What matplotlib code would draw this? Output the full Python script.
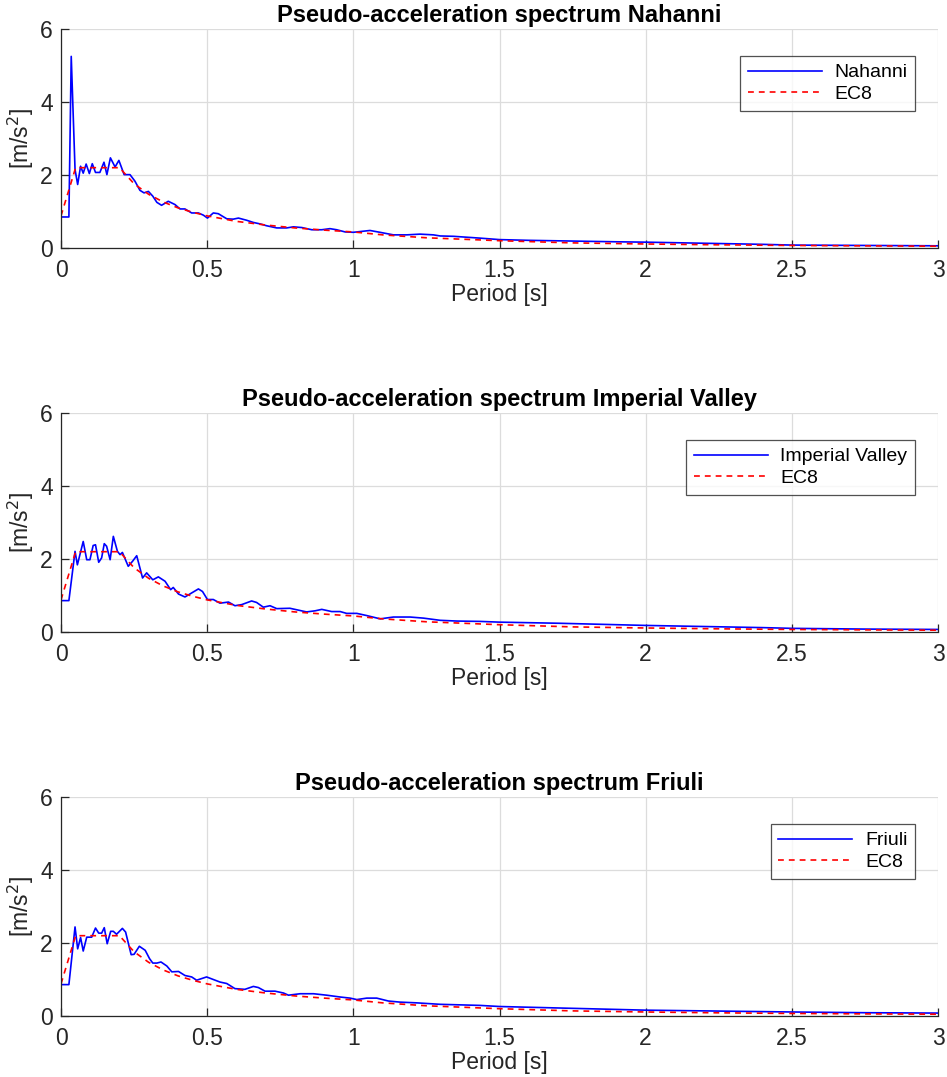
import matplotlib
matplotlib.use("Agg")
import matplotlib.pyplot as plt

plt.rcParams["font.family"] = ["Liberation Sans", "DejaVu Sans"]

# --- EC8 design spectrum ---
T_ec8 = [0.0, 0.05, 0.10, 0.15, 0.20, 0.25, 0.30, 0.35, 0.40, 0.45, 0.50,
         0.60, 0.70, 0.80, 0.90, 1.00, 1.10, 1.25, 1.50, 1.75, 2.00, 2.25,
         2.50, 2.75, 3.00]
Sa_ec8 = [0.88, 2.20, 2.20, 2.20, 2.20, 1.76, 1.47, 1.26, 1.10, 0.98, 0.88,
          0.73, 0.63, 0.55, 0.49, 0.44, 0.36, 0.28, 0.20, 0.14, 0.11, 0.087,
          0.070, 0.058, 0.049]

# --- Nahanni ---
T_nah = [0.0, 0.027, 0.035, 0.048, 0.057, 0.067, 0.076, 0.086, 0.097, 0.107,
         0.118, 0.133, 0.147, 0.157, 0.169, 0.185, 0.198, 0.216, 0.236, 0.253,
         0.270, 0.284, 0.299, 0.314, 0.328, 0.344, 0.367, 0.390, 0.407, 0.424,
         0.447, 0.470, 0.487, 0.501, 0.521, 0.538, 0.567, 0.589, 0.607, 0.635,
         0.658, 0.681, 0.703, 0.738, 0.772, 0.795, 0.824, 0.858, 0.892, 0.920,
         0.943, 0.972, 1.000, 1.023, 1.057, 1.091, 1.137, 1.183, 1.228, 1.274,
         1.297, 1.343, 1.434, 1.50, 1.60, 1.75, 1.90, 2.00, 2.20, 2.40, 2.50,
         2.75, 3.00]
Sa_nah = [0.85, 0.85, 5.25, 2.15, 1.74, 2.24, 2.05, 2.30, 2.04, 2.31,
          2.07, 2.07, 2.35, 2.01, 2.47, 2.22, 2.40, 2.01, 2.01, 1.83,
          1.58, 1.51, 1.55, 1.42, 1.25, 1.17, 1.28, 1.19, 1.07, 1.07,
          0.96, 0.96, 0.90, 0.82, 0.96, 0.94, 0.80, 0.79, 0.82, 0.76,
          0.70, 0.66, 0.61, 0.55, 0.55, 0.58, 0.56, 0.50, 0.50, 0.53,
          0.50, 0.44, 0.43, 0.45, 0.48, 0.43, 0.36, 0.36, 0.38, 0.36,
          0.33, 0.32, 0.27, 0.23, 0.21, 0.19, 0.17, 0.16, 0.13, 0.10, 0.08,
          0.07, 0.06]

# --- Imperial Valley ---
T_imp = [0.0, 0.027, 0.048, 0.056, 0.076, 0.088, 0.099, 0.110, 0.118, 0.129,
         0.139, 0.148, 0.156, 0.168, 0.179, 0.193, 0.202, 0.210, 0.230, 0.245,
         0.259, 0.279, 0.293, 0.314, 0.333, 0.356, 0.375, 0.384, 0.402, 0.424,
         0.447, 0.470, 0.484, 0.501, 0.521, 0.544, 0.573, 0.595, 0.618, 0.652,
         0.669, 0.692, 0.715, 0.738, 0.783, 0.840, 0.869, 0.892, 0.926, 0.955,
         0.977, 1.012, 1.046, 1.092, 1.137, 1.194, 1.240, 1.297, 1.354, 1.434,
         1.50, 1.70, 1.90, 2.00, 2.20, 2.40, 2.50, 2.75, 3.00]
Sa_imp = [0.86, 0.86, 2.21, 1.84, 2.48, 1.98, 1.98, 2.37, 2.39, 1.91,
          2.03, 2.42, 2.35, 1.98, 2.62, 2.21, 2.12, 2.18, 1.80, 1.94,
          2.09, 1.48, 1.62, 1.43, 1.51, 1.39, 1.16, 1.22, 1.04, 0.96,
          1.07, 1.18, 1.11, 0.89, 0.89, 0.79, 0.82, 0.72, 0.75, 0.85,
          0.81, 0.68, 0.72, 0.64, 0.65, 0.55, 0.58, 0.62, 0.56, 0.56,
          0.51, 0.51, 0.45, 0.36, 0.41, 0.41, 0.38, 0.32, 0.30, 0.29,
          0.27, 0.24, 0.20, 0.18, 0.15, 0.12, 0.10, 0.08, 0.07]

# --- Friuli ---
T_fri = [0.0, 0.027, 0.048, 0.057, 0.067, 0.076, 0.088, 0.105, 0.118, 0.129,
         0.139, 0.148, 0.158, 0.170, 0.179, 0.190, 0.210, 0.221, 0.240, 0.250,
         0.268, 0.288, 0.303, 0.314, 0.328, 0.342, 0.362, 0.379, 0.402, 0.424,
         0.447, 0.464, 0.498, 0.521, 0.544, 0.567, 0.595, 0.629, 0.658, 0.675,
         0.698, 0.732, 0.761, 0.778, 0.818, 0.864, 0.909, 0.955, 0.989, 1.012,
         1.046, 1.080, 1.120, 1.160, 1.217, 1.297, 1.434, 1.50, 1.70, 1.90,
         2.00, 2.20, 2.40, 2.50, 2.75, 3.00]
Sa_fri = [0.86, 0.86, 2.44, 1.84, 2.15, 1.78, 2.16, 2.16, 2.41, 2.27,
          2.27, 2.42, 1.98, 2.32, 2.32, 2.24, 2.40, 2.30, 1.68, 1.69,
          1.91, 1.80, 1.57, 1.45, 1.45, 1.48, 1.37, 1.21, 1.22, 1.11,
          1.07, 0.98, 1.07, 1.00, 0.93, 0.89, 0.75, 0.73, 0.81, 0.78,
          0.68, 0.68, 0.63, 0.57, 0.61, 0.61, 0.57, 0.52, 0.49, 0.45,
          0.49, 0.49, 0.41, 0.38, 0.36, 0.32, 0.29, 0.26, 0.22, 0.18,
          0.16, 0.14, 0.12, 0.11, 0.09, 0.08]

records = [("Nahanni", T_nah, Sa_nah),
           ("Imperial Valley", T_imp, Sa_imp),
           ("Friuli", T_fri, Sa_fri)]

fig = plt.figure(figsize=(9.47, 10.77), dpi=100)
W, H = 947, 1077
ax_left, ax_right = 61, 938
ax_tops = [29, 413, 797]
ax_h = 219

for (name, T, Sa), top in zip(records, ax_tops):
    ax = fig.add_axes([ax_left / W, 1 - (top + ax_h) / H,
                       (ax_right - ax_left) / W, ax_h / H])
    ax.plot(T, Sa, color="#0000ff", lw=1.2, label=name)
    ax.plot(T_ec8, Sa_ec8, color="#ff0000", lw=1.2, ls=(0, (3.5, 3)), label="EC8")
    ax.set_xlim(0, 3)
    ax.set_ylim(0, 6)
    ax.set_xticks([0, 0.5, 1, 1.5, 2, 2.5, 3])
    ax.set_xticklabels(["0", "0.5", "1", "1.5", "2", "2.5", "3"])
    ax.set_yticks([0, 2, 4, 6])
    ax.grid(True, color="#dcdcdc", lw=0.9)
    ax.set_axisbelow(True)
    for s in ("top", "right"):
        ax.spines[s].set_visible(False)
    for s in ("left", "bottom"):
        ax.spines[s].set_color("#262626")
        ax.spines[s].set_linewidth(0.9)
    ax.tick_params(direction="in", length=6, width=0.9, colors="#262626",
                   labelsize=16.5)
    ax.tick_params(axis="x", pad=8)
    ax.tick_params(axis="y", pad=6)
    ax.set_xlabel("Period [s]", fontsize=16.5, color="#262626", labelpad=1)
    ax.set_ylabel("[m/s$^2$]", fontsize=16.5, color="#262626", labelpad=3)
    ax.set_title(f"Pseudo-acceleration spectrum {name}", fontsize=17,
                 fontweight="bold", pad=5)
    leg = ax.legend(loc="upper right", bbox_to_anchor=(0.974, 0.877),
                    fontsize=14, frameon=True, fancybox=False,
                    handlelength=3.8, handletextpad=0.65, borderpad=0.4,
                    labelspacing=0.2, borderaxespad=0)
    leg.get_frame().set_edgecolor("#262626")
    leg.get_frame().set_linewidth(0.9)

fig.savefig("out.png", dpi=100)
